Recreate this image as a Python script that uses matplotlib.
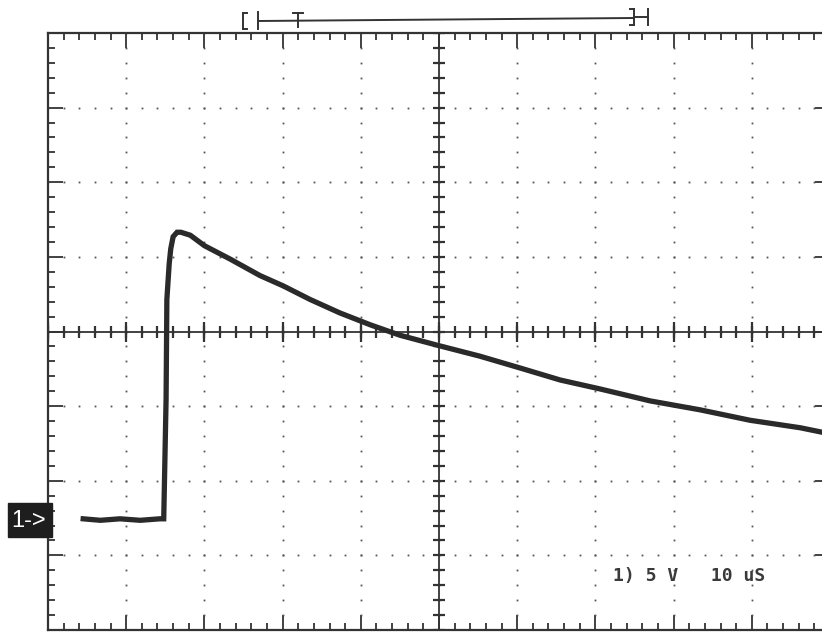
import numpy as np
import matplotlib
matplotlib.use("Agg")
import matplotlib.pyplot as plt
from matplotlib.patches import Rectangle

# channel 1 capture: time in microseconds, voltage in volts
t_us = [4.5, 6.7, 9.2, 11.8, 14.3, 14.8, 15.1, 15.2, 15.5, 15.7, 16.0, 16.5,
        17.0, 18.2, 20.0, 23.3, 27.1, 30.1, 33.5, 37.3, 41.2, 45.0, 50.0,
        55.2, 60.4, 65.5, 70.6, 77.0, 83.4, 89.8, 96.2, 99.0]
volts = [0.1, 0.0, 0.1, 0.0, 0.1, 0.1, 8.1, 14.8, 17.2, 18.2, 19.0, 19.3,
         19.3, 19.1, 18.4, 17.5, 16.4, 15.7, 14.8, 13.9, 13.1, 12.4, 11.7,
         11.0, 10.2, 9.4, 8.8, 8.0, 7.4, 6.7, 6.2, 5.9]

volts_per_div = 5
us_per_div = 10
n_xdiv, n_ydiv = 10, 8
ground_div = 1.47          # ground level, divisions above the bottom edge
scale_label = "1) 5 V   10 uS"

ink = "#333333"

fig = plt.figure(figsize=(8.22, 6.32), dpi=100)
W, H = 822, 632
left_px, top_px, right_px, bottom_px = 48, 33, 830, 630
ax = fig.add_axes([left_px / W, (H - bottom_px) / H,
                   (right_px - left_px) / W, (bottom_px - top_px) / H])

y0 = -ground_div * volts_per_div
y1 = y0 + n_ydiv * volts_per_div
x0, x1 = 0, n_xdiv * us_per_div
ax.set_xlim(x0, x1)
ax.set_ylim(y0, y1)

xmaj = np.arange(x0, x1 + 0.01, us_per_div)
xmin = np.arange(x0, x1 + 0.01, us_per_div / 5)
ymaj = y0 + np.arange(n_ydiv + 1) * volts_per_div
ymin = y0 + np.arange(n_ydiv * 5 + 1) * volts_per_div / 5

# frame with inward ticks on all sides
for s in ax.spines.values():
    s.set_color(ink)
    s.set_linewidth(1.6)
ax.set_xticks(xmaj)
ax.set_xticks(xmin, minor=True)
ax.set_yticks(ymaj)
ax.set_yticks(ymin, minor=True)
ax.tick_params(which="both", direction="in", top=True, right=True,
               labelbottom=False, labelleft=False, color=ink, width=1.3)
ax.tick_params(which="major", length=11)
ax.tick_params(which="minor", length=5)

# dotted graticule
for xv in xmaj[1:-1]:
    ax.plot(np.full(len(ymin), xv), ymin, ls="none", marker="s",
            ms=1.3, color="#555555", mew=0)
for yv in ymaj[1:-1]:
    ax.plot(xmin, np.full(len(xmin), yv), ls="none", marker="s",
            ms=1.3, color="#555555", mew=0)

# centre axes with small ticks
xc = (x0 + x1) / 2
yc = (y0 + y1) / 2
ax.axhline(yc, color=ink, lw=1.3)
ax.axvline(xc, color=ink, lw=1.3)
ax.plot(xmin, np.full(len(xmin), yc), ls="none", marker="|", ms=9,
        mew=1.6, color=ink)
ax.plot(xmaj, np.full(len(xmaj), yc), ls="none", marker="|", ms=14,
        mew=1.6, color=ink)
ax.plot(np.full(len(ymin), xc), ymin, ls="none", marker="_", ms=9,
        mew=1.6, color=ink)

# the trace
ax.plot(t_us, volts, color="#2a2a2a", lw=3.8, solid_joinstyle="miter")

ax.text(0.722, 0.09, scale_label, transform=ax.transAxes, fontsize=13,
        fontweight="bold", family="DejaVu Sans Mono", color="#3a3a3a",
        va="center", ha="left")

# overlay in pixel units for the channel marker and trigger bar
ov = fig.add_axes([0, 0, 1, 1], facecolor="none")
ov.set_xlim(0, W)
ov.set_ylim(H, 0)
ov.axis("off")

gy = bottom_px - ground_div * (bottom_px - top_px) / n_ydiv
ov.add_patch(Rectangle((8, gy - 17), 44, 34, color="#1e1e1e"))
ov.text(29, gy + 1, "1->", color="white", fontsize=17,
        family="Liberation Sans", ha="center", va="center")

bar = dict(color=ink, lw=1.4)
ov.plot([243, 243], [13, 29], **bar)
ov.plot([243, 247], [13, 13], **bar)
ov.plot([243, 247], [29, 29], **bar)
ov.plot([258, 258], [12, 29], **bar)
ov.plot([258, 634], [21, 18], **bar)
ov.plot([293, 303], [13, 13], **bar)
ov.plot([298, 298], [13, 27], **bar)
ov.plot([634, 634], [9, 25], **bar)
ov.plot([630, 634], [9, 9], **bar)
ov.plot([630, 634], [25, 25], **bar)
ov.plot([634, 648], [17, 17], **bar)
ov.plot([648, 648], [9, 25], **bar)

fig.savefig("out.png", dpi=100)
